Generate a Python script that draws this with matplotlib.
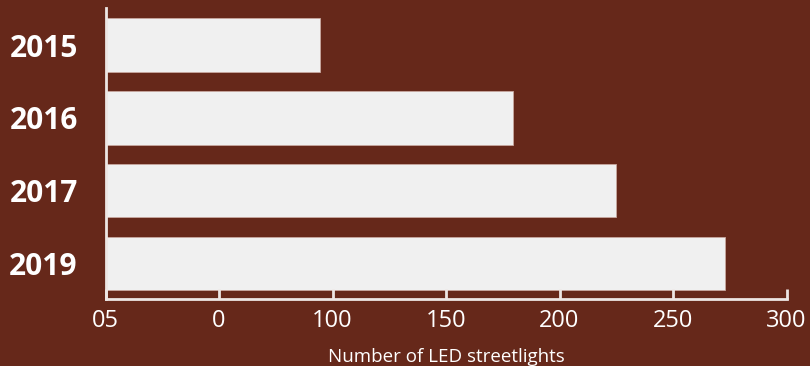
import matplotlib
matplotlib.use("Agg")
import matplotlib.pyplot as plt

years = ["2015", "2016", "2017", "2019"]
counts = [94.5, 179.5, 225, 273]
tick_values = [0, 50, 100, 150, 200, 250, 300]
tick_labels = ["05", "0", "100", "150", "200", "250", "300"]

bg = "#66281A"
bar_color = "#F0F0F0"
line_color = "#EDE6E4"

plt.rcParams['font.family'] = ['Open Sans', 'DejaVu Sans']

W, H = 810, 366
fig = plt.figure(figsize=(W / 100, H / 100), dpi=100, facecolor=bg)
ax = fig.add_axes([105.5 / W, 1 - 299 / H, (786.5 - 105.5) / W, (299 - 8) / H])
ax.set_facecolor(bg)

pos = list(range(len(years)))
ax.barh(pos, counts, height=0.735, color=bar_color, edgecolor="#C8A8A0", linewidth=0.6)

ax.set_xlim(0, 300)
ax.set_ylim(3.49, -0.51)
ax.set_yticks(pos)
ax.set_yticklabels(years, fontsize=21.5, fontweight="bold", color="white")
ax.tick_params(axis="y", length=0, pad=20)
ax.set_xticks(tick_values)
ax.set_xticklabels(tick_labels, fontsize=17, color="white")
ax.tick_params(axis="x", direction="in", length=7, width=2, color=line_color, pad=7)

for s in ["top", "right"]:
    ax.spines[s].set_visible(False)
for s in ["left", "bottom"]:
    ax.spines[s].set_color(line_color)
    ax.spines[s].set_linewidth(2)

ax.set_xlabel("Number of LED streetlights", fontsize=13.5, color="white", labelpad=11)

fig.savefig("out.png", dpi=100, facecolor=bg)
